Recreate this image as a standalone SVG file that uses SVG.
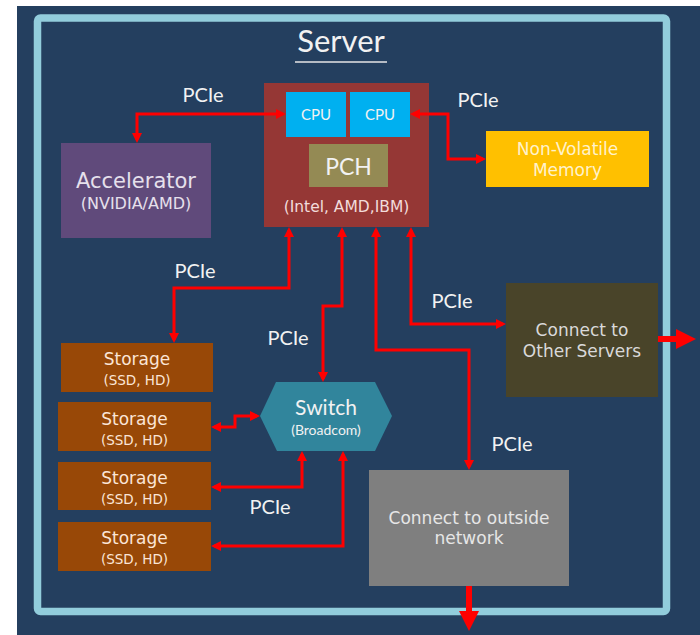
<svg xmlns="http://www.w3.org/2000/svg" width="700" height="635" viewBox="0 0 700 635">
<defs>
<style>
.lbl{font-family:Lato,"Open Sans","Liberation Sans",sans-serif;fill:#F2F2F2;font-size:20px;text-anchor:middle}
.gt{font-family:"DejaVu Sans","Liberation Sans",sans-serif;text-anchor:middle}
.conn{fill:none;stroke:#FF0000;stroke-width:3;marker-start:url(#ah);marker-end:url(#ah)}
.thick{fill:none;stroke:#FF0000;stroke-width:6;marker-end:url(#bh)}
.stor{fill:#984807}
</style>
<marker id="ah" markerUnits="userSpaceOnUse" markerWidth="10" markerHeight="10" refX="7" refY="5" orient="auto-start-reverse" viewBox="0 0 10 10">
<path d="M0,0 L10,5 L0,10 z" fill="#FF0000"/>
</marker>
<marker id="bh" markerUnits="userSpaceOnUse" markerWidth="20" markerHeight="20" refX="2" refY="10" orient="auto" viewBox="0 0 20 20">
<path d="M0,0 L20,10 L0,20 z" fill="#FF0000"/>
</marker>
</defs>
<rect x="0" y="0" width="700" height="635" fill="#FFFFFF"/>
<rect x="17" y="6" width="683" height="629" fill="#243F5F"/>
<g id="server-frame">
<rect x="37.5" y="18" width="629" height="593.5" rx="3" fill="none" stroke="#92CDDC" stroke-width="7.5"/>
<text x="341" y="52" class="lbl" style="font-size:31px">Server</text>
<line x1="295" y1="62" x2="387" y2="62" stroke="#E6E6E6" stroke-width="1.5"/>
</g>
<g id="processor">
<rect x="264" y="83" width="165" height="144" fill="#953735"/>
<text x="346.5" y="212" class="gt" style="font-size:15.5px;fill:#F2DCDB">(Intel, AMD,IBM)</text>
</g>
<g id="cpu1">
<rect x="286" y="92" width="60" height="45" fill="#00B0F0"/>
<text x="316" y="120" class="lbl" style="font-size:15px">CPU</text>
</g>
<g id="cpu2">
<rect x="350" y="92" width="60" height="45" fill="#00B0F0"/>
<text x="380" y="120" class="lbl" style="font-size:15px">CPU</text>
</g>
<g id="pch">
<rect x="309" y="144" width="79" height="43" fill="#948A54"/>
<text x="348.5" y="175" class="lbl" style="font-size:23px">PCH</text>
</g>
<g id="accelerator">
<rect x="61" y="143" width="150" height="95" fill="#604A7B"/>
<text x="136" y="188" class="gt" style="font-size:21px;fill:#E6E0EC">Accelerator</text>
<text x="136" y="209" class="gt" style="font-size:16px;fill:#E6E0EC">(NVIDIA/AMD)</text>
</g>
<g id="nvm">
<rect x="486" y="131" width="163" height="56" fill="#FFC000"/>
<text x="567.5" y="155" class="gt" style="font-size:17px;fill:#FFF2CC">Non-Volatile</text>
<text x="567.5" y="176" class="gt" style="font-size:17px;fill:#FFF2CC">Memory</text>
</g>
<g id="other-servers">
<rect x="506" y="283" width="152" height="114" fill="#494429"/>
<text x="582" y="336" class="gt" style="font-size:17px;fill:#D9D9D9">Connect to</text>
<text x="582" y="357" class="gt" style="font-size:17px;fill:#D9D9D9">Other Servers</text>
</g>
<g id="outside-network">
<rect x="369" y="470" width="200" height="116" fill="#7F7F7F"/>
<text x="469" y="524" class="gt" style="font-size:17px;fill:#E6E6E6">Connect to outside</text>
<text x="469" y="544" class="gt" style="font-size:17px;fill:#E6E6E6">network</text>
</g>
<g id="switch">
<polygon points="276,382 375,382 392,416 375,451 277,451 260,416" fill="#31859C"/>
<text x="326" y="415" class="lbl" style="font-size:21px">Switch</text>
<text x="326" y="435" class="lbl" style="font-size:14px">(Broadcom)</text>
</g>
<g id="storage1">
<rect class="stor" x="61" y="343" width="152" height="49"/>
<text x="137" y="365" class="gt" style="font-size:17px;fill:#FBE5D6">Storage</text>
<text x="137" y="385" class="gt" style="font-size:13.5px;fill:#FBE5D6">(SSD, HD)</text>
</g>
<g id="storage2">
<rect class="stor" x="58" y="402" width="153" height="49"/>
<text x="134.5" y="425" class="gt" style="font-size:17px;fill:#FBE5D6">Storage</text>
<text x="134.5" y="445" class="gt" style="font-size:13.5px;fill:#FBE5D6">(SSD, HD)</text>
</g>
<g id="storage3">
<rect class="stor" x="58" y="462" width="153" height="48"/>
<text x="134.5" y="484" class="gt" style="font-size:17px;fill:#FBE5D6">Storage</text>
<text x="134.5" y="504" class="gt" style="font-size:13.5px;fill:#FBE5D6">(SSD, HD)</text>
</g>
<g id="storage4">
<rect class="stor" x="58" y="522" width="153" height="49"/>
<text x="134.5" y="544" class="gt" style="font-size:17px;fill:#FBE5D6">Storage</text>
<text x="134.5" y="564" class="gt" style="font-size:13.5px;fill:#FBE5D6">(SSD, HD)</text>
</g>
<g id="connectors">
<path class="conn" d="M137,140 V114 H283"/>
<path class="conn" d="M413,114 H448 V159 H483"/>
<path class="conn" d="M289,230 V288 H174 V340"/>
<path class="conn" d="M342,230 V306 H323 V379"/>
<path class="conn" d="M376,230 V350 H469 V467"/>
<path class="conn" d="M411,230 V324 H503"/>
<path class="conn" d="M214,427 H235 V416 H257"/>
<path class="conn" d="M302,454 V487 H214"/>
<path class="conn" d="M343,454 V546 H214"/>
<path class="thick" d="M658,339 H678"/>
<path class="thick" d="M469,586 V613"/>
<text x="203" y="102" class="lbl">PCIe</text>
<text x="478" y="107" class="lbl">PCIe</text>
<text x="195" y="278" class="lbl">PCIe</text>
<text x="288" y="345" class="lbl">PCIe</text>
<text x="452" y="308" class="lbl">PCIe</text>
<text x="512" y="451" class="lbl">PCIe</text>
<text x="270" y="514" class="lbl">PCIe</text>
</g>
</svg>
